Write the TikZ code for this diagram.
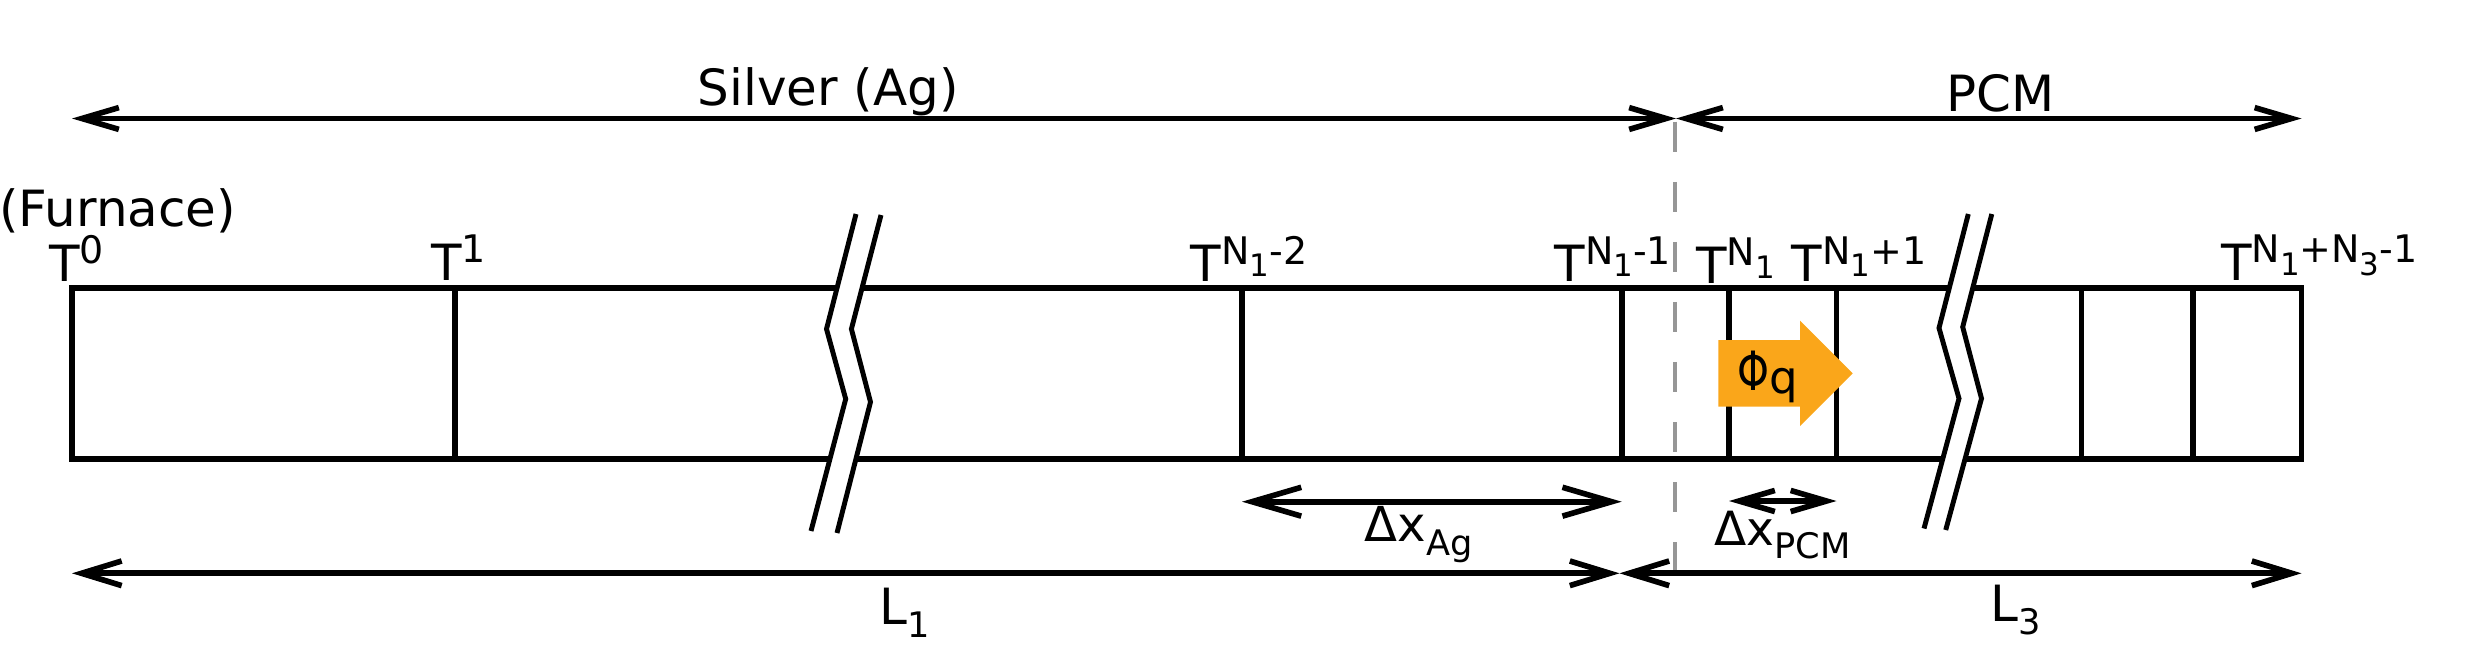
\documentclass[tikz,border=0pt]{standalone}
\usepackage{fontspec}
\setmainfont{DejaVu Sans}
\usetikzlibrary{arrows.meta}
\definecolor{flux}{RGB}{250,166,26}
\definecolor{dashgray}{RGB}{150,150,150}
\newcommand\sups[1]{\raisebox{5pt}{\fontsize{10.8pt}{12pt}\selectfont #1}}
\newcommand\subsub[1]{\raisebox{-3.6pt}{\fontsize{8.8pt}{10pt}\selectfont #1}}
\newcommand\lsub[1]{\raisebox{-3.8pt}{\fontsize{10pt}{12pt}\selectfont #1}}
\begin{document}
\begin{tikzpicture}[x=0.01cm,y=-0.01cm,
  line width=1.6pt,
  lbl/.style={inner sep=0pt, anchor=base west, font=\fontsize{14.2pt}{17pt}\selectfont},
  dimtop/.style={{Straight Barb[length=10.5pt,width=6.2pt]}-{Straight Barb[length=10.5pt,width=6.2pt]}},
  dimbot/.style={{Straight Barb[length=11.4pt,width=7pt]}-{Straight Barb[length=11.4pt,width=7pt]}},
  dimag/.style={{Straight Barb[length=14pt,width=8.2pt]}-{Straight Barb[length=14pt,width=8.2pt]}},
  dimpcm/.style={{Straight Barb[length=10.2pt,width=6pt]}-{Straight Barb[length=10.2pt,width=6pt]}},
  breakline/.style={line width=1.4pt},
  interface/.style={dashgray, line width=1.1pt, dash pattern=on 8.54pt off 8.54pt}
]
\useasboundingbox (0,0) rectangle (2466,645);

% rod and cells
\draw (72,288) rectangle (2301.5,459.3);
\foreach \xx in {455,1242,1621.7,1729,1836.5,2081.6,2193}
  \draw (\xx,288) -- (\xx,459.3);

% breaks
\fill[white] (856,214) -- (826.5,329) -- (845.7,399) -- (811,531) -- (837,533) -- (870.5,402) -- (851.4,329) -- (881,215) -- cycle;
\draw[breakline] (856,214) -- (826.5,329) -- (845.7,399) -- (811,531);
\draw[breakline] (881,215) -- (851.4,329) -- (870.5,402) -- (837,533);
\fill[white] (1968.3,214) -- (1939,328) -- (1959,398.5) -- (1924,528.5) -- (1945.7,530) -- (1981.5,398.5) -- (1962.7,327) -- (1991.8,214) -- cycle;
\draw[breakline] (1968.3,214) -- (1939,328) -- (1959,398.5) -- (1924,528.5);
\draw[breakline] (1991.8,214) -- (1962.7,327) -- (1981.5,398.5) -- (1945.7,530);

% heat flux arrow
\fill[flux] (1718.3,340) -- (1800,340) -- (1800,320.7) -- (1852.7,373.3) -- (1800,426) -- (1800,406.7) -- (1718.3,406.7) -- cycle;
\node[lbl] (phi) at (1735,390) {\fontsize{15.4pt}{18pt}\selectfont \scalebox{0.75}[1]{Φ}\raisebox{-1pt}{\fontsize{12.8pt}{15pt}\selectfont q}};

% interface
\coordinate (dT) at (1675,121.7);
\coordinate (dB) at (1675,571.7);
\draw[interface] (dT) -- (dB);

% dimension arrows
\coordinate (sL) at (72,118.5);
\coordinate (jT) at (1676,118.5);
\coordinate (sR) at (2301.5,118.5);
\coordinate (bL) at (72,573.3);
\coordinate (jB) at (1619.5,573.3);
\coordinate (bR) at (2301.5,573.3);
\coordinate (agL) at (1242,501.7);
\coordinate (agR) at (1621.7,501.7);
\coordinate (pcL) at (1729,501);
\coordinate (pcR) at (1836.5,501);
\draw[dimtop] (sL) -- (jT);
\draw[dimtop] (jT) -- (sR);
\draw[dimbot] (bL) -- (jB);
\draw[dimbot] (jB) -- (bR);
\draw[dimag] (agL) -- (agR);
\draw[dimpcm] (pcL) -- (pcR);

% labels
\node[lbl] (silver) at (695,105) {Silver (Ag)};
\node[lbl] (pcm) at (1943.4,111.7) {PCM};
\node[lbl] (furnace) at (-3.5,226) {(Furnace)};
\node[lbl] (t0) at (46.5,281) {T\sups{0}};
\node[lbl] (t1) at (428.3,280) {T\sups{1}};
\node[lbl] (tn2) at (1188,281.7) {T\sups{N\subsub{1}-2}};
\node[lbl] (tn1) at (1551.7,281.7) {T\sups{N\subsub{1}-1}};
\node[lbl] (tn) at (1693.6,283.3) {T\sups{N\subsub{1}}};
\node[lbl] (tnp) at (1789,281.7) {T\sups{N\subsub{1}+1}};
\node[lbl] (tend) at (2218.3,280) {T\sups{N\subsub{1}+N\subsub{3}-1}};
\node[lbl] (dxag) at (1362,541.7) {\fontsize{13.7pt}{16pt}\selectfont Δx\lsub{Ag}};
\node[lbl] (dxpcm) at (1711.7,545) {\fontsize{13.4pt}{16pt}\selectfont Δx\lsub{PCM}};
\node[lbl] (l1) at (877,624) {L\lsub{1}};
\node[lbl] (l3) at (1987.5,621) {L\lsub{3}};
\end{tikzpicture}
\end{document}
